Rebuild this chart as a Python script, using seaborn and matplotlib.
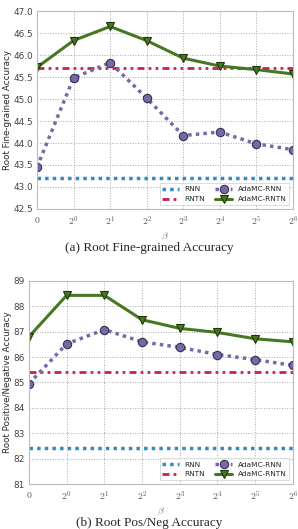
import matplotlib
matplotlib.use("Agg")
import matplotlib.pyplot as plt
import numpy as np
import pandas as pd
import seaborn as sns

# x categories
betas = ["0", "2^0", "2^1", "2^2", "2^3", "2^4", "2^5", "2^6"]
beta_labels = [r"$0$", r"$2^0$", r"$2^1$", r"$2^2$", r"$2^3$", r"$2^4$", r"$2^5$", r"$2^6$"]

# (a) root fine-grained accuracy
fine_rnn = 43.2
fine_rntn = 45.7
fine_adamc_rnn = [43.45, 45.48, 45.83, 45.02, 44.17, 44.25, 43.98, 43.85]
fine_adamc_rntn = [45.72, 46.33, 46.65, 46.33, 45.93, 45.75, 45.67, 45.57]

# (b) root pos/neg accuracy
pn_rnn = 82.4
pn_rntn = 85.4
pn_adamc_rnn = [84.95, 86.52, 87.08, 86.6, 86.38, 86.1, 85.9, 85.67]
pn_adamc_rntn = [86.8, 88.43, 88.43, 87.47, 87.13, 86.97, 86.72, 86.6]

sns.set_style("whitegrid")
plt.rcParams["font.family"] = ["DejaVu Sans"]
plt.rcParams["mathtext.fontset"] = "cm"

BLUE, RED, PURPLE, GREEN = "#348ABD", "#C8204F", "#7A68A6", "#467821"


def draw(ax, rnn, rntn, adamc_rnn, adamc_rntn, ylim, yticks, ylabel, yfmt):
    x = np.arange(len(betas))
    df = pd.DataFrame({
        "x": np.tile(x, 4),
        "acc": [rnn] * len(x) + [rntn] * len(x) + adamc_rnn + adamc_rntn,
        "model": ["RNN"] * len(x) + ["RNTN"] * len(x)
                 + ["AdaMC-RNN"] * len(x) + ["AdaMC-RNTN"] * len(x),
    })
    sns.lineplot(data=df[df.model == "RNN"], x="x", y="acc", ax=ax, color=BLUE,
                 lw=2.5, ls=(0, (1, 1.2)), label="RNN")
    sns.lineplot(data=df[df.model == "RNTN"], x="x", y="acc", ax=ax, color=RED,
                 lw=2.0, ls=(0, (2.5, 1.5, 1, 1.5, 1, 1.5)), label="RNTN")
    sns.lineplot(data=df[df.model == "AdaMC-RNN"], x="x", y="acc", ax=ax,
                 color=PURPLE, lw=2.5, ls=(0, (1, 1.2)), marker="o", ms=6,
                 mfc=PURPLE, mec="#333355", mew=0.8, label="AdaMC-RNN")
    sns.lineplot(data=df[df.model == "AdaMC-RNTN"], x="x", y="acc", ax=ax,
                 color=GREEN, lw=2.2, marker="v", ms=6, mfc=GREEN,
                 mec="#1e3510", mew=0.8, label="AdaMC-RNTN")
    ax.set_xlim(0, len(betas) - 1)
    ax.set_ylim(*ylim)
    ax.set_yticks(yticks)
    ax.set_yticklabels([yfmt.format(v) for v in yticks], fontsize=6.4)
    ax.set_xticks(x)
    ax.set_xticklabels(beta_labels, fontsize=7, color="#555555")
    ax.tick_params(axis="y", colors="#444444", pad=1, length=2, width=0.6)
    ax.tick_params(axis="x", colors="#555555", pad=2, length=2, width=0.6)
    ax.set_xlabel(r"$\beta$", fontsize=7, color="#777777", labelpad=2)
    ax.set_ylabel(ylabel, fontsize=6.3, labelpad=1)
    ax.grid(True, color="#aaaaaa", ls=":", lw=0.7)
    for s in ax.spines.values():
        s.set_color("#bbbbbb")
        s.set_linewidth(0.8)
    leg = ax.legend(loc="lower right", ncol=2, fontsize=5.3, frameon=True,
                    fancybox=False, handlelength=2.2, columnspacing=1.4,
                    borderpad=0.4, labelspacing=0.5, handletextpad=0.8)
    leg.get_frame().set_edgecolor("#cccccc")
    leg.get_frame().set_linewidth(0.6)


fig = plt.figure(figsize=(2.98, 5.29), dpi=100)
ax1 = fig.add_axes([0.124, 0.605, 0.859, 0.374])
ax2 = fig.add_axes([0.097, 0.085, 0.886, 0.384])

draw(ax1, fine_rnn, fine_rntn, fine_adamc_rnn, fine_adamc_rntn, (42.5, 47.0),
     np.arange(42.5, 47.01, 0.5), "Root Fine-grained Accuracy", "{:.1f}")
draw(ax2, pn_rnn, pn_rntn, pn_adamc_rnn, pn_adamc_rntn, (81, 89),
     np.arange(81, 89.5, 1), "Root Positive/Negative Accuracy", "{:.0f}")

fig.text(0.5, 1 - 248 / 529, "(a) Root Fine-grained Accuracy", ha="center",
         va="center", fontsize=9.5, family="Liberation Serif")
fig.text(0.5, 1 - 523 / 529, "(b) Root Pos/Neg Accuracy", ha="center",
         va="center", fontsize=9.5, family="Liberation Serif")

fig.savefig("out.png", dpi=100)
